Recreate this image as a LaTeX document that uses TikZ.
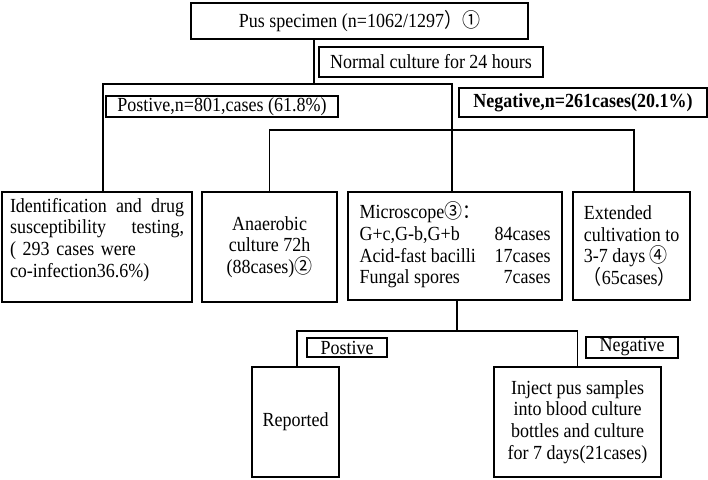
\documentclass[tikz,border=0pt]{standalone}
\usepackage{fontspec}
\setmainfont[FakeStretch=0.9]{Liberation Serif}
\newfontfamily\cjk[FakeStretch=0.9]{Noto Sans CJK SC}
\newcommand\cjkch[1]{{\cjk #1}}
\tikzset{
  box/.style={draw, line width=1.8pt, inner sep=0pt, font=\fontsize{20}{21.7}\selectfont},
  link/.style={line width=1.6pt}
}
\begin{document}
\begin{tikzpicture}[x=1pt,y=-1pt]
  \useasboundingbox (0,0) rectangle (708,479);
  % top level
  \node[box, minimum width=337pt, minimum height=36pt] (top) at (359.5,21) {Pus specimen (n=1062/1297\cjkch{）①}};
  \node[box, minimum width=224pt, minimum height=30pt] (normal) at (431,62) {Normal culture for 24 hours};
  \node[box, minimum width=232pt, minimum height=21pt] (posA) at (222,106.5) {Postive,n=801,cases (61.8\%)};
  \node[box, minimum width=248pt, minimum height=29pt, font=\fontsize{20}{21.7}\selectfont\bfseries] (negA) at (583,102.5) {Negative,n=261cases(20.1\%)};
  % second level
  \node[box, minimum width=190pt, minimum height=110pt, text width=174pt, align=left] (ident) at (97,247)
    {Identification\hfill and\hfill drug\\susceptibility\hfill testing,\\( 293 cases were\\co-infection36.6\%)\\[-3pt]\mbox{}};
  \node[box, minimum width=135pt, minimum height=110pt, align=center] (anaer) at (269.5,247)
    {Anaerobic\\culture 72h\\(88cases)\cjkch{②}};
  \node[box, minimum width=214pt, minimum height=108pt] (micro) at (455,246)
    {\begin{tabular*}{191pt}{@{}l@{\extracolsep{\fill}}r@{}}
      Microscope\cjkch{③：} & \\
      G+c,G-b,G+b & 84cases\\
      Acid-fast bacilli & 17cases\\
      Fungal spores & 7cases
    \end{tabular*}};
  \node[box, minimum width=117pt, minimum height=108pt, align=left] (ext) at (631.5,246)
    {Extended\\cultivation to\\3-7 days \cjkch{④}\\\cjkch{（}65cases\cjkch{）}};
  % third level
  \node[box, minimum width=80pt, minimum height=19pt] (posB) at (347,347.5) {Postive};
  \node[box, minimum width=92pt, minimum height=21pt] (negB) at (632,347.5) {Negative};
  \node[box, minimum width=87pt, minimum height=110pt] (rep) at (295.5,422) {Reported};
  \node[box, minimum width=167pt, minimum height=110pt, align=center] (inj) at (577.5,422)
    {Inject pus samples\\into blood culture\\bottles and culture\\for 7 days(21cases)};
  % junctions
  \coordinate (splitA) at (314,84);
  \coordinate (legA) at (103,84);
  \coordinate (legB) at (452,84);
  \coordinate (splitB) at (634,130);
  \coordinate (splitC) at (457,331);
  \coordinate (legC) at (297,331);
  % connectors
  \draw[link] (top.south -| splitA) -- (splitA);
  \draw[link] (ident.north -| legA) -- (legA) -- (legB) -- (micro.north -| legB);
  \draw[link] (anaer.north) |- (splitB) -- (ext.north -| splitB);
  \draw[link] (micro.south -| splitC) -- (splitC);
  \draw[link] (rep.north -| legC) |- (splitC) -| (inj.north);
\end{tikzpicture}
\end{document}
